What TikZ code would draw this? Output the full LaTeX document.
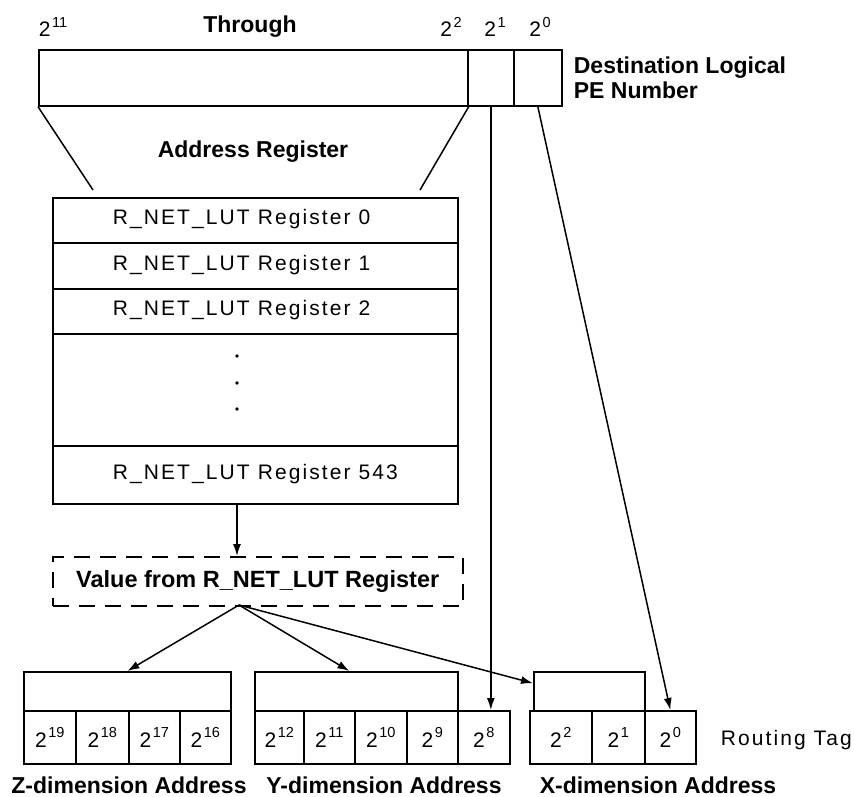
\documentclass[tikz,border=0pt]{standalone}
\usepackage{fontspec}
\setmainfont{Liberation Sans}
\usetikzlibrary{arrows.meta,calc}
% power of two with a raised exponent
\newcommand\pw[1]{2\kern1.5pt\raisebox{0.45em}{\fontsize{14.5pt}{14.5pt}\selectfont #1}}

\begin{document}
\begin{tikzpicture}[x=1pt,y=-1pt,
  line width=1.7pt,
  cell/.style={draw, rectangle, inner sep=0pt, anchor=north west,
               font=\fontsize{21pt}{25pt}\selectfont},
  reg/.style={font=\fontsize{21pt}{25pt}\selectfont\addfontfeature{LetterSpace=10},
              inner sep=0pt},
  hd/.style={font=\fontsize{23pt}{25pt}\selectfont\bfseries, inner sep=0pt},
  sup/.style={font=\fontsize{21pt}{25pt}\selectfont, inner sep=0pt},
  dotmark/.style={circle, fill, inner sep=0pt, minimum size=3.6pt},
  arr/.style={-{Latex[length=12pt,width=8pt]}, line width=1.5pt},
  ln/.style={line width=1.5pt}
]
\useasboundingbox (0,0) rectangle (854,797);

% destination logical PE number
\node[cell, minimum width=429pt, minimum height=56pt] (pe) at (38,49) {};
\node[cell, minimum width=46pt,  minimum height=56pt] (b1) at (467,49) {};
\node[cell, minimum width=48pt,  minimum height=56pt] (b0) at (513,49) {};
\node[sup] (t11) at (53,27) {\pw{11}};
\node[hd]  (thr) at (250,27) {Through};
\node[sup] (t2)  at (451,27) {\pw{2}};
\node[sup] (t1)  at (495,27) {\pw{1}};
\node[sup] (t0)  at (540,27) {\pw{0}};
\node[hd, align=left, anchor=west] (dest) at (573,77.5) {Destination Logical\\PE Number};

% address register fan-out
\coordinate (lA) at (93,190);
\coordinate (rA) at (420,190);
\draw[ln] (pe.south west) -- (lA);
\draw[ln] (pe.south east) -- (rA);
\node[hd] (addr) at (253,152) {Address Register};

% lookup table
\node[cell, minimum width=405pt, minimum height=45pt]  (r0)   at (52,197) {};
\node[cell, minimum width=405pt, minimum height=46pt]  (r1)   at (52,242) {};
\node[cell, minimum width=405pt, minimum height=45pt]  (r2)   at (52,288) {};
\node[cell, minimum width=405pt, minimum height=112pt] (rdot) at (52,333) {};
\node[cell, minimum width=405pt, minimum height=58pt]  (r543) at (52,445) {};
\node[reg, anchor=west] (l0)   at (112,219.5) {R\_NET\_LUT Register 0};
\node[reg, anchor=west] (l1)   at (112,265)   {R\_NET\_LUT Register 1};
\node[reg, anchor=west] (l2)   at (112,310.5) {R\_NET\_LUT Register 2};
\node[reg, anchor=west] (l543) at (112,474)   {R\_NET\_LUT Register 543};
\node[dotmark] (d1) at (237,356) {};
\node[dotmark] (d2) at (237,383) {};
\node[dotmark] (d3) at (237,409) {};

% selected value
\node[cell, line width=1.5pt, dash pattern=on 16pt off 10pt, minimum width=410pt, minimum height=49pt,
      font=\fontsize{23.5pt}{25pt}\selectfont\bfseries] (val) at (52,556)
      {Value from R\_NET\_LUT Register};
\coordinate (tap) at (237,503);
\draw[arr] (tap) -- (tap |- val.north);

% routing tag fields
\node[cell, minimum width=207pt, minimum height=39pt] (zup) at (23,671) {};
\node[cell, minimum width=52pt, minimum height=53pt] (z19) at (23,710)  {\pw{19}};
\node[cell, minimum width=53pt, minimum height=53pt] (z18) at (75,710)  {\pw{18}};
\node[cell, minimum width=51pt, minimum height=53pt] (z17) at (128,710) {\pw{17}};
\node[cell, minimum width=51pt, minimum height=53pt] (z16) at (179,710) {\pw{16}};

\node[cell, minimum width=203pt, minimum height=39pt] (yup) at (254,671) {};
\node[cell, minimum width=49pt, minimum height=53pt] (y12) at (254,710) {\pw{12}};
\node[cell, minimum width=51pt, minimum height=53pt] (y11) at (303,710) {\pw{11}};
\node[cell, minimum width=52pt, minimum height=53pt] (y10) at (354,710) {\pw{10}};
\node[cell, minimum width=51pt, minimum height=53pt] (y9)  at (406,710) {\pw{9}};
\node[cell, minimum width=52pt, minimum height=53pt] (y8)  at (457,710) {\pw{8}};

\node[cell, minimum width=111pt, minimum height=39pt] (xup) at (533,671) {};
\node[cell, minimum width=62pt, minimum height=53pt] (x2) at (529,710) {\pw{2}};
\node[cell, minimum width=53pt, minimum height=53pt] (x1) at (591,710) {\pw{1}};
\node[cell, minimum width=51pt, minimum height=53pt] (x0) at (644,710) {\pw{0}};

\node[reg, anchor=west] (rt) at (720,740) {Routing Tag};
\node[hd] (zl) at (129,785) {Z-dimension Address};
\node[hd] (yl) at (384,785) {Y-dimension Address};
\node[hd] (xl) at (658,785) {X-dimension Address};

% connectors into the routing tag
\coordinate (src) at (239,605);
\draw[arr] (src) -- (zup.north);
\draw[arr] (src) -- ($(yup.north)+(-7,0)$);
\draw[arr] (src) -- ($(xup.north west)!0.3!(xup.south west)$);
\draw[arr] (b1.south) -- (b1.south |- y8.north);
\draw[arr] (b0.south) -- (x0.north);
\end{tikzpicture}
\end{document}
